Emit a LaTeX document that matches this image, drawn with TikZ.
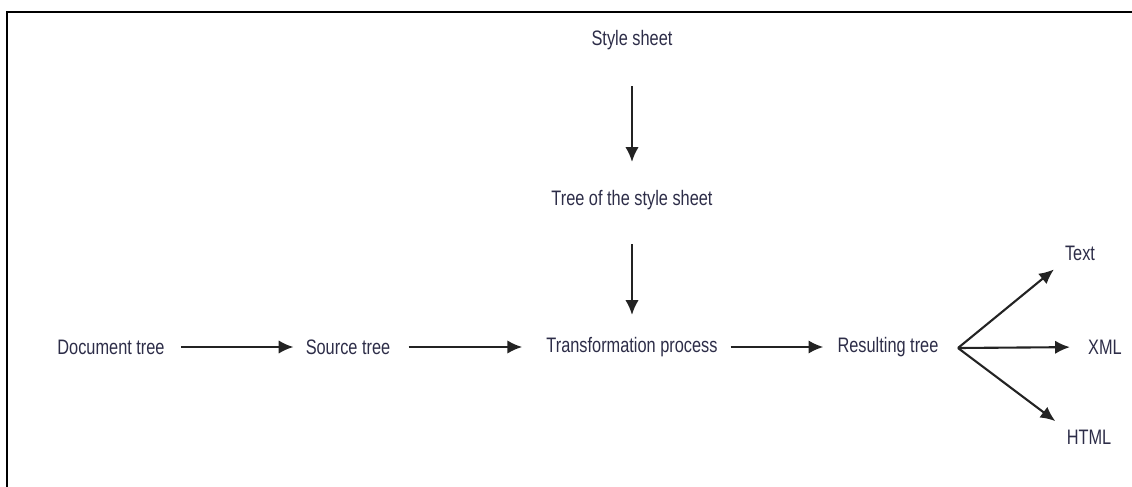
\documentclass[tikz,border=0pt]{standalone}
\usepackage{fontspec}
\setmainfont[FakeStretch=0.78]{Liberation Sans}
\usetikzlibrary{arrows.meta}

\definecolor{labelcol}{RGB}{45,45,72}
\definecolor{arrowcol}{RGB}{35,35,35}

\tikzset{
    label/.style={inner sep=0pt, text=labelcol, font=\fontsize{14.9}{16}\selectfont},
    flow/.style={-{Latex[length=10.5pt,width=9.5pt]}, line width=1.5pt, draw=arrowcol},
}

\begin{document}
\begin{tikzpicture}[x=0.025cm, y=-0.025cm]
    \useasboundingbox (0,0) rectangle (1132,487);

    % frame (only top and left edge visible)
    \draw[line width=1.6pt] (7,487) -- (7,12) -- (1132,12);

    \node[label] (style) at (632,40) {Style sheet};
    \node[label] (styletree) at (632,200) {Tree of the style sheet};

    \node[label] (doctree) at (111,347) {Document tree};
    \node[label] (srctree) at (348,347) {Source tree};
    \node[label] (transf) at (632,347) {Transformation process};
    \node[label] (restree) at (888,347) {Resulting tree};

    \node[label] (text) at (1080,253) {Text};
    \node[label] (xml) at (1105,347) {XML};
    \node[label] (html) at (1089,437) {HTML};

    \coordinate (fan) at (958,348);

    % style sheet branch
    \draw[flow, shorten <=0.9cm, shorten >=0.7cm] (style.south) -- (styletree.north);
    \draw[flow, shorten <=0.85cm, shorten >=0.55cm] (styletree.south) -- (transf.north);

    % main line
    \draw[flow, shorten <=0.4cm, shorten >=0.3cm] (doctree.east) -- (srctree.west);
    \draw[flow, shorten <=0.45cm, shorten >=0.6cm] (srctree.east) -- (transf.west);
    \draw[flow, shorten <=0.32cm, shorten >=0.35cm] (transf.east) -- (restree.west);

    % outputs
    \draw[flow, shorten >=0.35cm] (fan) -- (text.south west);
    \draw[flow, shorten >=0.45cm] (fan) -- (xml.west);
    \draw[flow, shorten >=0.35cm] (fan) -- (html.north west);
\end{tikzpicture}
\end{document}
